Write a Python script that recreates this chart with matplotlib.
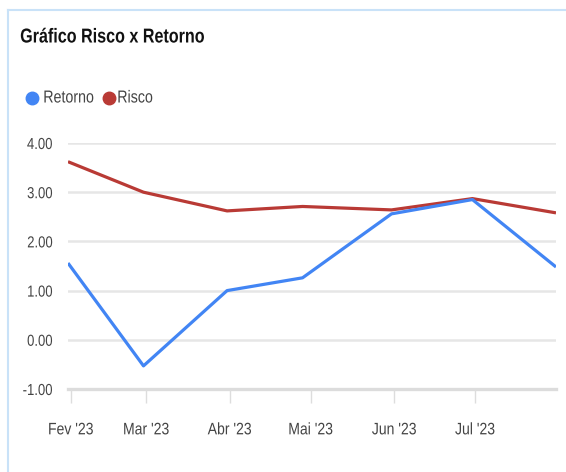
import matplotlib
matplotlib.use("Agg")
import matplotlib.pyplot as plt
from matplotlib.lines import Line2D
from matplotlib.patheffects import AbstractPathEffect
from matplotlib.transforms import Affine2D
import datetime as dt

dates = ["2023-01-31", "2023-02-28", "2023-03-31", "2023-04-28",
         "2023-05-31", "2023-06-30", "2023-07-31"]
retorno = [1.56, -0.53, 1.00, 1.26, 2.56, 2.85, 1.48]
risco = [3.62, 3.00, 2.62, 2.71, 2.64, 2.87, 2.58]
tick_dates = ["2023-02-01", "2023-03-01", "2023-04-01", "2023-05-01",
              "2023-06-01", "2023-07-01"]
tick_labels = ["Fev '23", "Mar '23", "Abr '23", "Mai '23", "Jun '23", "Jul '23"]
y_ticks = [-1, 0, 1, 2, 3, 4]
title = "Gráfico Risco x Retorno"
series_names = ["Retorno", "Risco"]

plt.rcParams["font.family"] = ["Liberation Sans", "DejaVu Sans"]


class Condense(AbstractPathEffect):
    """Horizontally compress text about an anchor (0=left, 0.5=center, 1=right)."""

    def __init__(self, sx=0.82, anchor=0.0):
        super().__init__()
        self.sx = sx
        self.anchor = anchor

    def draw_path(self, renderer, gc, tpath, affine, rgbFace=None):
        ext = tpath.get_extents()
        cx = ext.x0 + self.anchor * ext.width
        t = Affine2D().translate(-cx, 0).scale(self.sx, 1).translate(cx, 0) + affine
        renderer.draw_path(gc, tpath, t, rgbFace)


W, H = 566, 472
fig = plt.figure(figsize=(W / 100, H / 100), dpi=100)
fig.patch.set_facecolor("white")

# card border (top and left)
fig.add_artist(Line2D([8 / W, 1], [1 - 10 / H, 1 - 10 / H], transform=fig.transFigure,
                      color="#c9e2f8", lw=1.5))
fig.add_artist(Line2D([8 / W, 8 / W], [0, 1 - 10 / H], transform=fig.transFigure,
                      color="#c9e2f8", lw=1.5))

left, right = 68, 556
top, bottom = 143, 389
ax = fig.add_axes([left / W, 1 - bottom / H, (right - left) / W, (bottom - top) / H])

d = [dt.datetime.strptime(s, "%Y-%m-%d") for s in dates]
td = [dt.datetime.strptime(s, "%Y-%m-%d") for s in tick_dates]

blue = "#4285f4"
red = "#b93a35"
ax.plot(d, risco, color=red, lw=2.3, solid_capstyle="butt", zorder=3)
ax.plot(d, retorno, color=blue, lw=2.3, solid_capstyle="butt", zorder=4)

ax.set_xlim(d[0], d[-1])
ax.set_ylim(-1, 4)
ax.set_yticks(y_ticks)
ax.set_yticklabels([f"{v:.2f}" for v in y_ticks])
ax.set_xticks(td)
ax.set_xticklabels(tick_labels)

for s in ["top", "right", "left"]:
    ax.spines[s].set_visible(False)
ax.spines["bottom"].set_color("#dcdcdc")
ax.spines["bottom"].set_linewidth(2.4)
ax.spines["bottom"].set_zorder(1)

for v in y_ticks[1:]:
    ax.axhline(v, color="#e6e6e6", lw=1.8, zorder=1)

ax.tick_params(axis="y", length=0, pad=11, labelsize=11.5, labelcolor="#444444")
ax.tick_params(axis="x", length=10, width=1, color="#dddddd", pad=14,
               labelsize=12, labelcolor="#444444")

for lbl in ax.get_yticklabels():
    lbl.set_path_effects([Condense(0.82, 1.0)])
for lbl in ax.get_xticklabels():
    lbl.set_path_effects([Condense(0.84, 0.5)])

fig.text(20 / W, 1 - 37 / H, title, fontsize=14.5, fontweight="bold", color="#111111",
         va="center", ha="left", path_effects=[Condense(0.8, 0.0)])

# legend
fig.add_artist(Line2D([32 / W], [1 - 98 / H], marker="o", markersize=9, color=blue,
                      transform=fig.transFigure, ls="none"))
fig.text(43 / W, 1 - 98 / H, series_names[0], fontsize=12.5, color="#444444", va="center",
         path_effects=[Condense(0.82, 0.0)])
fig.add_artist(Line2D([109 / W], [1 - 98 / H], marker="o", markersize=9, color=red,
                      transform=fig.transFigure, ls="none"))
fig.text(117 / W, 1 - 98 / H, series_names[1], fontsize=12.5, color="#444444", va="center",
         path_effects=[Condense(0.82, 0.0)])

fig.savefig("out.png", dpi=100, facecolor="white")
